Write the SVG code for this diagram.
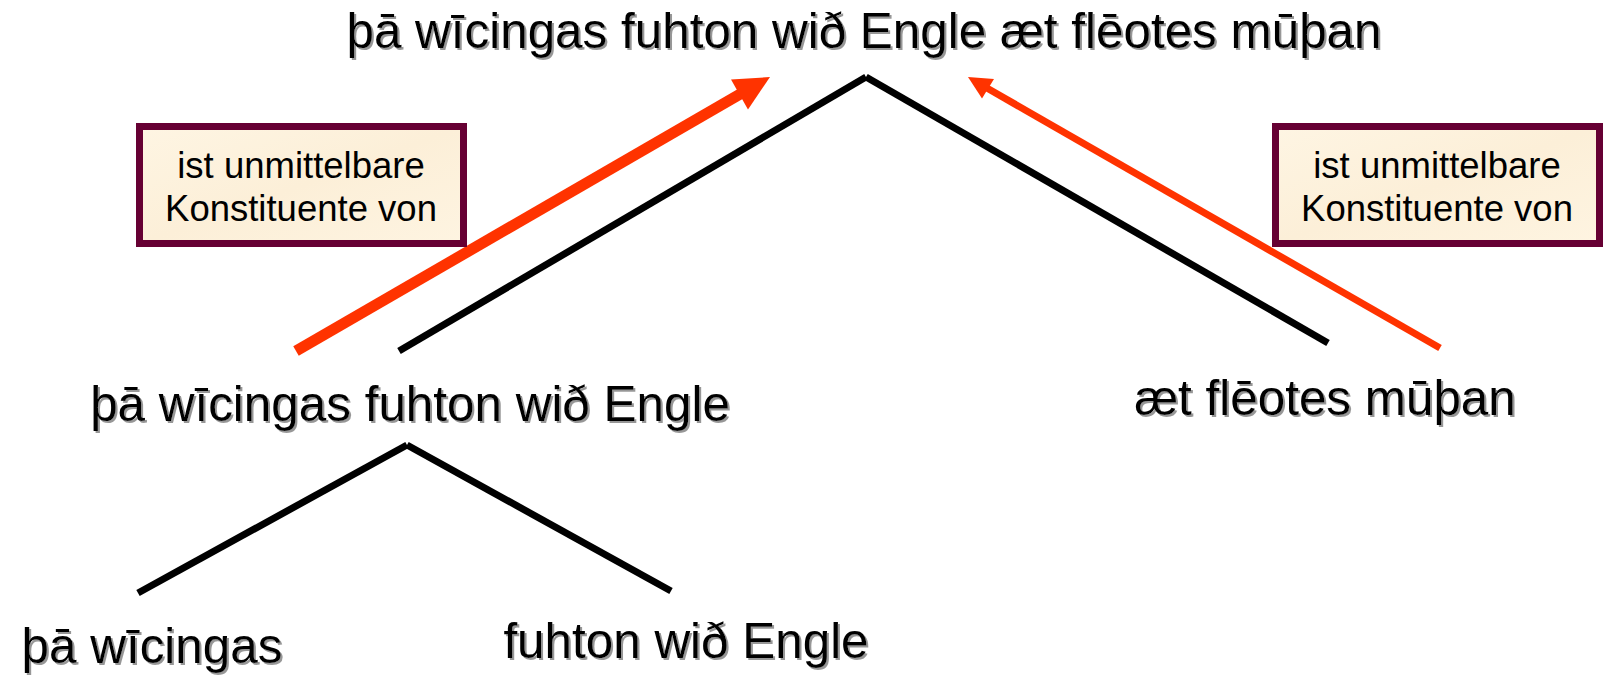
<svg xmlns="http://www.w3.org/2000/svg" width="1604" height="677" viewBox="0 0 1604 677">
<defs>
<filter id="sh" x="-5%" y="-20%" width="110%" height="140%">
<feDropShadow dx="2" dy="2" stdDeviation="0.6" flood-color="#8c8c8c" flood-opacity="0.9"/>
</filter>
<linearGradient id="parch" x1="0" y1="0" x2="1" y2="1">
<stop offset="0" stop-color="#FEF5E3"/>
<stop offset="0.5" stop-color="#FCEFD8"/>
<stop offset="1" stop-color="#FEF4E1"/>
</linearGradient>
<style>
.t{font-family:"Liberation Sans",Arial,sans-serif;font-size:49.4px;fill:#000;text-anchor:middle;filter:url(#sh)}
.b{font-family:"Liberation Sans",Arial,sans-serif;font-size:36.5px;fill:#000;text-anchor:middle}
.box{fill:url(#parch);stroke:#660033;stroke-width:7}
.k{stroke:#000;stroke-width:7;fill:none}
.r{fill:#FF3300;stroke:none}
</style>
</defs>
<g id="connectors">
<line class="k" x1="399" y1="351" x2="866" y2="77"/>
<line class="k" x1="866" y1="77" x2="1328" y2="343"/>
<line class="k" x1="138" y1="593" x2="407" y2="445"/>
<line class="k" x1="407" y1="445" x2="671" y2="591"/>
<line x1="296" y1="351" x2="742" y2="93" stroke="#FF3300" stroke-width="11"/>
<polygon class="r" points="770,77 748,109.5 731,79.5"/>
<line x1="1440" y1="348" x2="986" y2="87.5" stroke="#FF3300" stroke-width="7"/>
<polygon class="r" points="968,77 994,79 982,98.5"/>
</g>
<g id="n-root"><text class="t" x="864" y="48">þā wīcingas fuhton wið Engle æt flēotes mūþan</text></g>
<g id="n-left"><text class="t" x="410" y="421">þā wīcingas fuhton wið Engle</text></g>
<g id="n-right"><text class="t" x="1325" y="415">æt flēotes mūþan</text></g>
<g id="n-ll"><text class="t" x="152" y="663">þā wīcingas</text></g>
<g id="n-lr"><text class="t" x="686" y="658">fuhton wið Engle</text></g>
<g id="box-left">
<rect class="box" x="139.5" y="126.5" width="324" height="117"/>
<text class="b" x="301" y="178">ist unmittelbare</text>
<text class="b" x="301" y="221">Konstituente von</text>
</g>
<g id="box-right">
<rect class="box" x="1275.5" y="126.5" width="324" height="117"/>
<text class="b" x="1437" y="178">ist unmittelbare</text>
<text class="b" x="1437" y="221">Konstituente von</text>
</g>
</svg>
